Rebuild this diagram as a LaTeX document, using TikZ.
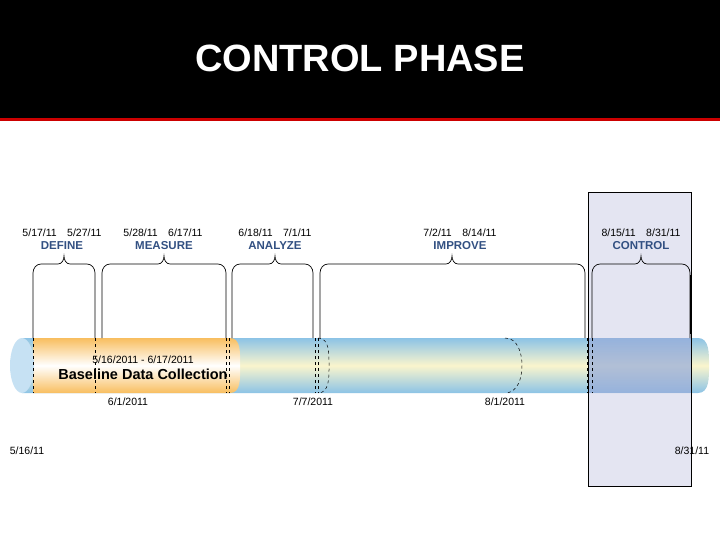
\documentclass[tikz,border=0pt]{standalone}
\usepackage{fontspec}
\setmainfont{Liberation Sans}
\definecolor{phase}{RGB}{50,80,130}
\definecolor{lav}{RGB}{210,212,234}
\definecolor{tubeblue}{RGB}{140,195,230}
\definecolor{tubecream}{RGB}{250,245,205}
\definecolor{tubeor}{RGB}{248,190,95}
\definecolor{ctrlblue}{RGB}{90,130,200}
\tikzset{
 date/.style={font=\fontsize{10.5}{12}\selectfont},
 phasename/.style={font=\bfseries\fontsize{11.5}{13}\selectfont,text=phase},
 bracel/.style={line width=0.7pt},
 dashln/.style={dashed,line width=0.5pt},
}
\newcommand{\phbrace}[3]{%
 \draw[bracel] (#1,338) -- (#1,273) to[out=90,in=180] (#1+8,264) -- (#3-6,264) to[out=0,in=-90] (#3,256) to[out=-90,in=180] (#3+6,264) -- (#2-8,264) to[out=0,in=90] (#2,273) -- (#2,338);}
\begin{document}
\begin{tikzpicture}[x=1pt,y=-1pt]
\useasboundingbox (0,0) rectangle (720,540);
\fill[white] (0,0) rectangle (720,540);
\fill[black] (0,0) rectangle (720,118);
\fill[red!80!black] (0,118) rectangle (720,121);
\node[text=white,font=\bfseries\fontsize{38}{42}\selectfont] (title) at (360,58) {CONTROL PHASE};
% tube
\shade[top color=tubeblue,bottom color=tubeblue,middle color=tubecream] (22,338) -- (698,338) to[out=0,in=90] (709,365.5) to[out=-90,in=0] (698,393) -- (22,393) -- cycle;
\shade[top color=tubeor,bottom color=tubeor,middle color=white] (33,338) -- (230,338) to[out=0,in=90] (240,365.5) to[out=-90,in=0] (230,393) -- (33,393) -- cycle;
\fill[tubeblue!50!white] (22,365.5) ellipse[x radius=12,y radius=27.5];
% control box
\fill[lav,opacity=0.6] (588,192) rectangle (691,486);
\fill[ctrlblue,opacity=0.35] (588,338) rectangle (691,393);
\draw[line width=0.8pt] (588,192) rectangle (691,486);
% dashed lines
\foreach \x in {33,95,226,229,315,318,587,592,691}
 \draw[dashln] (\x,338) -- (\x,393);
\draw[dashln] (318,338) to[out=0,in=90] (329,365.5) to[out=-90,in=0] (318,393);
\draw[dashln] (505,338) to[out=0,in=90] (522,365.5) to[out=-90,in=0] (505,393);
% braces
\phbrace{33}{95}{64}
\phbrace{102}{226}{164}
\phbrace{232}{313}{275}
\phbrace{320}{585}{452}
\phbrace{592}{690}{641}
\draw[line width=1.5pt] (691,275) -- (691,334);
% labels
\node[date] (d1) at (62,233) {5/17/11\quad 5/27/11};
\node[phasename] (p1) at (62,246) {DEFINE};
\node[date] (d2) at (163,233) {5/28/11\quad 6/17/11};
\node[phasename] (p2) at (164,246) {MEASURE};
\node[date] (d3) at (275,233) {6/18/11\quad 7/1/11};
\node[phasename] (p3) at (275,246) {ANALYZE};
\node[date] (d4) at (460,233) {7/2/11\quad 8/14/11};
\node[phasename] (p4) at (460,246) {IMPROVE};
\node[date] (d5) at (641,233) {8/15/11\quad 8/31/11};
\node[phasename] (p5) at (641,246) {CONTROL};
\node[date] (r1) at (143,360) {5/16/2011 - 6/17/2011};
\node[font=\bfseries\fontsize{14.5}{16}\selectfont] (r2) at (143,374) {Baseline Data Collection};
\node[date] (b1) at (128,402) {6/1/2011};
\node[date] (b2) at (313,402) {7/7/2011};
\node[date] (b3) at (505,402) {8/1/2011};
\node[date] (b4) at (27,451) {5/16/11};
\node[date] (b5) at (692,451) {8/31/11};
\end{tikzpicture}
\end{document}
